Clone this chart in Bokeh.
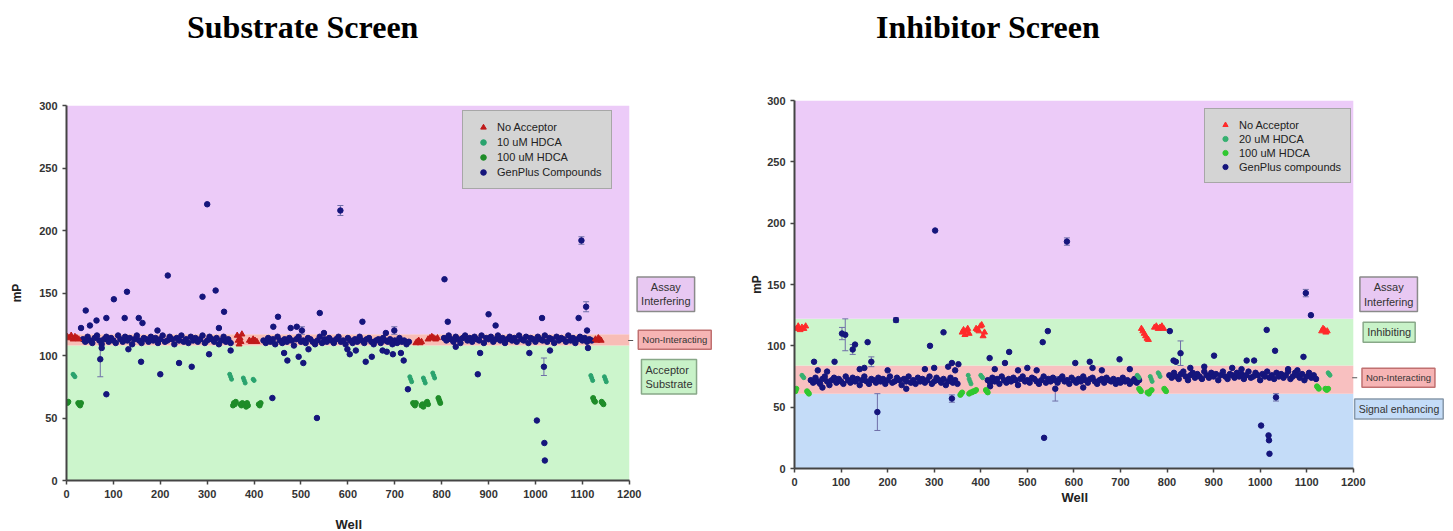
from bokeh.plotting import figure
from bokeh.layouts import row, column
from bokeh.models import (Legend, LegendItem, Label, Range1d, FixedTicker, Title, Div)
from bokeh.embed import file_html
from bokeh.resources import INLINE

# ---------------- data: Substrate Screen ----------------
sub_band_lo = [0, 108, 117]
sub_band_hi = [108, 117, 300]
sub_band_col = ["#CCF5CC", "#F8BDB6", "#ECCBF8"]
sub_mark_mp = 112

# dense band of GenPlus compounds (wells step 5 from the given start)
sub_bulk1_start = 35
sub_bulk1 = [113, 111, 115, 112, 110, 114, 116, 112, 109, 113,
             115, 111, 114, 112, 110, 116, 113, 111, 115, 112,
             114, 109, 113, 116, 112, 110, 114, 113, 111, 115,
             112, 114, 110, 113, 116, 111, 112, 115, 113, 109,
             114, 112, 116, 111, 113, 110, 115, 112, 114, 111,
             113, 116, 110, 112, 115, 113, 111, 114, 109, 112,
             115, 111, 113, 110]
sub_bulk2_start = 420
sub_bulk2 = [112, 110, 114, 111, 113, 109, 115, 112, 110, 113,
             111, 114, 112, 108, 113, 115, 111, 112, 110, 114,
             113, 111, 109, 112, 115, 110, 113, 111, 114, 112,
             110, 113, 115, 111, 112, 109, 114, 112, 110, 113,
             111, 115, 112, 110, 113, 114, 111, 109, 112, 113,
             110, 114, 112, 111, 113, 109, 112, 110, 114, 111,
             112, 109, 111]
sub_bulk3_start = 805
sub_bulk3 = [114, 112, 116, 113, 111, 115, 113, 110, 114, 116,
             112, 114, 111, 115, 113, 112, 116, 110, 114, 113,
             115, 111, 113, 116, 112, 114, 110, 113, 115, 112,
             114, 111, 116, 113, 112, 115, 110, 114, 113, 111,
             115, 113, 112, 116, 111, 114, 113, 110, 115, 112,
             114, 113, 111, 116, 112, 114, 110, 113, 115, 112,
             114, 111, 113, 112]
sub_out_well = [31, 41, 50, 64, 85, 101, 124, 129, 154, 162, 194, 216, 290, 300, 318,
                325, 336, 441, 451, 478, 491, 502, 540, 549, 584, 631, 681, 699, 806,
                813, 900, 915, 1014, 1092, 1098, 1108, 1110,
                72, 75, 85, 132, 159, 200, 240, 267, 304, 350, 439, 464, 471, 495, 505,
                516, 534, 599, 604, 617, 638, 651, 674, 683, 696, 713, 719, 728, 830,
                877, 882, 987, 1003, 1018, 1019, 1020, 1031, 1112]
sub_out_mp = [122, 136, 124, 128, 130, 145, 130, 151, 130, 126, 120, 164, 147, 221, 152,
              122, 135, 123, 131, 122, 123, 120, 134, 118, 216, 127, 118, 120, 161,
              127, 133, 124, 130, 130, 192, 139, 120,
              97, 106, 69, 105, 95, 85, 94, 91, 101, 104, 66, 102, 96, 99, 94,
              105, 50, 105, 101, 104, 95, 99, 104, 103, 101, 102, 96, 73, 107,
              85, 102, 102, 48, 91, 30, 16, 104, 106]
sub_err_well = [72, 502, 584, 699, 1018, 1098, 1108]
sub_err_mp = [97, 120, 216, 120, 91, 192, 139]
sub_err_sd = [14, 3, 4, 3, 7, 3, 4]

sub_noacc_well = [2, 6, 10, 14, 18, 22, 26, 364, 366, 368, 370, 372, 374,
                  390, 394, 398, 402, 406, 745, 748, 751, 754, 757,
                  771, 775, 779, 783, 787, 791, 1128, 1131, 1134, 1137, 1140]
sub_noacc_mp = [115, 114, 116, 113, 115, 114, 113, 116, 112, 109, 114, 111, 117,
                112, 111, 113, 112, 111, 110, 111, 112, 110, 111,
                113, 114, 115, 114, 113, 114, 113, 112, 114, 113, 112]
sub_lo_well = [14, 16, 18, 348, 350, 352, 377, 379, 381, 398, 400, 732, 734, 736,
               761, 763, 765, 781, 783, 785, 1118, 1120, 1122, 1147, 1149, 1151]
sub_lo_mp = [85, 84, 83, 85, 83, 81, 82, 80, 78, 81, 80, 83, 81, 79,
             82, 80, 78, 86, 84, 82, 84, 82, 80, 83, 81, 79]
sub_hi_well = [0, 2, 4, 25, 27, 29, 31, 355, 357, 359, 361, 371, 373, 375,
               381, 383, 385, 387, 410, 412, 414, 739, 741, 743, 745, 757, 759, 761,
               767, 769, 771, 793, 795, 797, 1123, 1125, 1127, 1141, 1143, 1145]
sub_hi_mp = [63, 62, 63, 62, 61, 60, 62, 60, 62, 61, 63, 61, 60, 62,
             61, 59, 62, 60, 61, 60, 62, 62, 61, 60, 62, 60, 61, 59,
             62, 63, 61, 66, 64, 62, 66, 64, 63, 63, 62, 61]
sub_legend = ["No Acceptor", "10 uM HDCA", "100 uM HDCA", "GenPlus Compounds"]
sub_zone_text = ["Assay\nInterfering", "Non-Interacting", "Acceptor\nSubstrate"]
sub_zone_pos = [(1278, 149), (1297, 112.6), (1226, 83)]
sub_zone_align = ["center", "center", "left"]

# ---------------- data: Inhibitor Screen ----------------
inh_band_lo = [0, 61, 84, 122]
inh_band_hi = [61, 84, 122, 300]
inh_band_col = ["#C4DCF8", "#F8C0C0", "#CCF5CC", "#ECCBF8"]
inh_mark_mp = 74

inh_bulk1_start = 35
inh_bulk1 = [72, 70, 74, 71, 69, 73, 75, 71, 68, 72,
             74, 70, 73, 71, 69, 75, 72, 70, 74, 71,
             73, 68, 72, 75, 71, 69, 73, 72, 70, 74,
             71, 73, 69, 72, 75, 70, 71, 74, 72, 68,
             73, 71, 75, 70, 72, 69, 74, 71, 73, 70,
             72, 75, 69, 71, 74, 72, 70, 73, 68, 71,
             74, 70, 72, 69]
inh_bulk2_start = 415
inh_bulk2 = [72, 70, 74, 71, 73, 69, 75, 72, 70, 73,
             71, 74, 72, 68, 73, 75, 71, 72, 70, 74,
             73, 71, 69, 72, 75, 70, 73, 71, 74, 72,
             70, 73, 75, 71, 72, 69, 74, 72, 70, 73,
             71, 75, 72, 70, 73, 74, 71, 69, 72, 73,
             70, 74, 72, 71, 73, 69, 72, 70, 74, 71,
             72, 69, 71, 73, 70, 72]
inh_bulk3_start = 805
inh_bulk3 = [76, 74, 78, 75, 73, 77, 79, 75, 72, 76,
             78, 74, 77, 75, 73, 79, 76, 74, 78, 75,
             77, 72, 76, 79, 75, 73, 77, 76, 74, 78,
             75, 77, 73, 76, 79, 74, 75, 78, 76, 72,
             77, 75, 79, 74, 76, 73, 78, 75, 77, 74,
             76, 79, 73, 75, 78, 76, 74, 77, 72, 75,
             78, 74, 76, 73]
inh_out_well = [42, 86, 102, 109, 125, 130, 157, 165, 178, 218, 291, 302, 320, 338, 338,
                352, 419, 452, 461, 533, 536, 544, 560, 585, 603, 634, 698, 806, 814,
                819, 829, 901, 971, 987, 1002, 1014, 1018, 1019, 1020, 1032, 1034, 1093,
                1098, 1109,
                50, 70, 140, 150, 200, 280, 300, 330, 345, 430, 480, 500, 520, 640, 660,
                720, 850, 880, 940, 960, 1060, 1080, 60, 240, 420, 620]
inh_out_mp = [87, 87, 110, 109, 97, 101, 103, 87, 46, 121, 100, 194, 111, 57, 86,
              85, 90, 86, 95, 103, 25, 112, 65, 185, 86, 87, 89, 112, 88,
              87, 94, 92, 88, 88, 35, 113, 27, 23, 12, 96, 58, 91,
              143, 125,
              80, 79, 81, 82, 80, 81, 82, 83, 80, 81, 80, 82, 80, 82, 80,
              81, 82, 83, 82, 81, 81, 80, 66, 65, 67, 66]
inh_err_well = [102, 109, 125, 165, 178, 218, 338, 560, 585, 829, 1034, 1098]
inh_err_mp = [110, 109, 97, 87, 46, 121, 57, 65, 185, 94, 58, 143]
inh_err_sd = [5, 13, 4, 4, 15, 2, 3, 10, 3, 10, 3, 3]

inh_noacc_well = [4, 8, 12, 16, 20, 24, 360, 363, 366, 369, 372, 375,
                  390, 393, 396, 399, 402, 405, 408, 745, 748, 751, 754, 757, 760,
                  773, 777, 781, 785, 789, 793, 1132, 1135, 1138, 1141, 1144]
inh_noacc_mp = [114, 116, 113, 115, 114, 116, 111, 113, 109, 112, 114, 110,
                114, 113, 112, 116, 117, 108, 111, 114, 112, 110, 108, 106, 105,
                115, 116, 114, 115, 116, 114, 112, 114, 113, 111, 112]
inh_lo_well = [16, 18, 20, 373, 375, 377, 379, 400, 402, 404, 736, 738, 740,
               764, 766, 768, 781, 783, 785, 1146, 1148, 1150]
inh_lo_mp = [76, 75, 74, 76, 73, 71, 69, 76, 75, 74, 76, 75, 74,
             75, 73, 71, 78, 77, 75, 78, 77, 76]
inh_hi_well = [0, 2, 4, 27, 29, 31, 356, 358, 360, 375, 378, 381, 384, 387, 390,
               411, 413, 415, 740, 742, 744, 758, 761, 764, 767, 794, 796, 798,
               1122, 1124, 1126, 1140, 1143, 1146]
inh_hi_mp = [64, 63, 65, 63, 62, 61, 60, 61, 62, 61, 62, 62, 63, 63, 64,
             64, 63, 62, 65, 64, 63, 62, 61, 63, 64, 65, 64, 63,
             67, 66, 65, 65, 64, 65]
inh_legend = ["No Acceptor", "20 uM HDCA", "100 uM HDCA", "GenPlus compounds"]
inh_zone_text = ["Assay\nInterfering", "Inhibiting", "Non-Interacting", "Signal enhancing"]
inh_zone_pos = [(1276, 142), (1277, 111), (1297, 74), (1298, 48.5)]
inh_zone_align = ["center", "center", "center", "center"]

x_ticks = [0, 100, 200, 300, 400, 500, 600, 700, 800, 900, 1000, 1100, 1200]
y_ticks = [0, 50, 100, 150, 200, 250, 300]

SANS = "Liberation Sans"
NAVY = "#15157C"
ERRC = "#6F6FA8"
TITLE_H = 55


def bulk_x(start, vals):
    return [start + 5 * i for i in range(len(vals))]


def title_div(text, width, left):
    html = ('<div style="padding-left:%dpx; padding-top:5px; white-space:nowrap; '
            'font-family:\'Liberation Serif\'; font-weight:bold; font-size:32px; '
            'color:#000;">%s</div>' % (left, text))
    return Div(text=html, width=width, height=TITLE_H, margin=0)


def make_panel(cfg):
    p = figure(output_backend="svg", toolbar_location=None,
               frame_width=cfg["fw"], frame_height=cfg["fh"],
               min_border_left=cfg["bl"], min_border_right=0,
               min_border_top=cfg["bt"], min_border_bottom=cfg["bb"],
               x_range=Range1d(0, cfg["xend"]), y_range=Range1d(0, 300))
    p.outline_line_color = None
    p.background_fill_color = "white"
    p.border_fill_color = "white"
    p.xgrid.visible = False
    p.ygrid.visible = False

    p.quad(left=0, right=1200, bottom=cfg["band_lo"], top=cfg["band_hi"],
           fill_color=cfg["band_col"], line_color=None)

    # error bars
    eu = [m + s for m, s in zip(cfg["err_mp"], cfg["err_sd"])]
    el = [m - s for m, s in zip(cfg["err_mp"], cfg["err_sd"])]
    p.segment(x0=cfg["err_well"], y0=el, x1=cfg["err_well"], y1=eu,
              line_color=ERRC, line_width=1)
    p.scatter(cfg["err_well"], eu, marker="dash", size=6, line_color=ERRC, line_width=1)
    p.scatter(cfg["err_well"], el, marker="dash", size=6, line_color=ERRC, line_width=1)

    # compounds
    bx = (bulk_x(cfg["b1s"], cfg["b1"]) + bulk_x(cfg["b2s"], cfg["b2"])
          + bulk_x(cfg["b3s"], cfg["b3"]) + cfg["out_well"])
    by = cfg["b1"] + cfg["b2"] + cfg["b3"] + cfg["out_mp"]
    r_gen = p.scatter(bx, by, size=5.5, color=NAVY, line_color=NAVY)

    r_no = p.scatter(cfg["no_well"], cfg["no_mp"], marker=cfg["no_marker"], size=6,
                     color=cfg["no_col"])
    r_lo = p.scatter(cfg["lo_well"], cfg["lo_mp"], size=4, color=cfg["lo_col"])
    r_hi = p.scatter(cfg["hi_well"], cfg["hi_mp"], size=5, color=cfg["hi_col"])

    # small mark at the right edge of the non-interacting zone
    p.scatter([1203], [cfg["mark_mp"]], marker="dash", size=5, line_color="#555555",
              line_width=1.2)

    legend = Legend(items=[LegendItem(label=cfg["legend"][0], renderers=[r_no]),
                           LegendItem(label=cfg["legend"][1], renderers=[r_lo]),
                           LegendItem(label=cfg["legend"][2], renderers=[r_hi]),
                           LegendItem(label=cfg["legend"][3], renderers=[r_gen])],
                    location=cfg["leg_loc"], background_fill_color="#D4D4D4",
                    background_fill_alpha=1, border_line_color="#7A7A7A",
                    border_line_width=1.5, label_text_font=SANS,
                    label_text_font_size="11px", label_text_color="#222222",
                    padding=9, spacing=1, glyph_width=22, glyph_height=cfg["leg_h"],
                    label_height=cfg["leg_h"], label_standoff=3, margin=0)
    p.add_layout(legend)

    # axes
    for ax in (p.xaxis[0], p.yaxis[0]):
        ax.axis_line_color = "#444444"
        ax.axis_line_width = 2
        ax.major_tick_line_color = "#444444"
        ax.major_tick_line_width = 1.5
        ax.major_tick_out = 4
        ax.major_tick_in = 0
        ax.minor_tick_line_color = None
        ax.major_label_text_font = SANS
        ax.major_label_text_font_style = "bold"
        ax.major_label_text_font_size = "11px"
        ax.major_label_text_color = "#333333"
        ax.axis_label_text_font = SANS
        ax.axis_label_text_font_style = "bold"
        ax.axis_label_text_color = "#222222"
    p.xaxis.ticker = FixedTicker(ticks=x_ticks)
    p.yaxis.ticker = FixedTicker(ticks=y_ticks)
    p.xaxis.bounds = (0, 1200)
    p.yaxis.axis_label = "mP"
    p.yaxis.axis_label_text_font_size = "12px"
    p.yaxis.axis_label_standoff = cfg["yls"]

    # x-axis title "Well" placed under the 0-1200 span
    p.add_layout(Title(text="Well", align="left", offset=cfg["well_off"],
                       standoff=cfg["well_so"], vertical_align="middle",
                       text_font=SANS, text_font_style="bold", text_font_size="13px",
                       text_color="#222222"), "below")

    # zone labels
    for i, (txt, (zx, zy)) in enumerate(zip(cfg["zone_text"], cfg["zone_pos"])):
        fill, border = cfg["zone_style"][i]
        p.add_layout(Label(x=zx, y=zy, text=txt, text_font=SANS,
                           text_font_size=cfg["zone_size"][i],
                           text_align=cfg["zone_align"][i],
                           text_baseline="middle", text_color="#333333",
                           background_fill_color=fill, border_line_color=border,
                           border_line_width=1.5, padding=4))
    return p


p1 = make_panel(dict(
    fw=665, fh=375, bl=66, bt=50, bb=30, xend=1418,
    band_lo=sub_band_lo, band_hi=sub_band_hi, band_col=sub_band_col,
    mark_mp=sub_mark_mp,
    err_well=sub_err_well, err_mp=sub_err_mp, err_sd=sub_err_sd,
    b1s=sub_bulk1_start, b1=sub_bulk1, b2s=sub_bulk2_start, b2=sub_bulk2,
    b3s=sub_bulk3_start, b3=sub_bulk3, out_well=sub_out_well, out_mp=sub_out_mp,
    no_well=sub_noacc_well, no_mp=sub_noacc_mp, no_marker="triangle", no_col="#C01A1A",
    lo_well=sub_lo_well, lo_mp=sub_lo_mp, lo_col="#2AA36E",
    hi_well=sub_hi_well, hi_mp=sub_hi_mp, hi_col="#1E8C28",
    legend=sub_legend, leg_loc=(396, 291), leg_h=14,
    yls=12, well_off=269, well_so=31,
    zone_text=sub_zone_text, zone_pos=sub_zone_pos, zone_align=sub_zone_align,
    zone_style=[("#E8C8F2", "#8A8A8A"), ("#F6B4B4", "#C07070"), ("#C8F2C8", "#88A888")],
    zone_size=["11px", "9.5px", "11px"],
))

p2 = make_panel(dict(
    fw=651, fh=368, bl=63, bt=45, bb=30, xend=1398,
    band_lo=inh_band_lo, band_hi=inh_band_hi, band_col=inh_band_col,
    mark_mp=inh_mark_mp,
    err_well=inh_err_well, err_mp=inh_err_mp, err_sd=inh_err_sd,
    b1s=inh_bulk1_start, b1=inh_bulk1, b2s=inh_bulk2_start, b2=inh_bulk2,
    b3s=inh_bulk3_start, b3=inh_bulk3, out_well=inh_out_well, out_mp=inh_out_mp,
    no_well=inh_noacc_well, no_mp=inh_noacc_mp, no_marker="triangle", no_col="#FF2A2A",
    lo_well=inh_lo_well, lo_mp=inh_lo_mp, lo_col="#35B070",
    hi_well=inh_hi_well, hi_mp=inh_hi_mp, hi_col="#30C830",
    legend=inh_legend, leg_loc=(410, 285), leg_h=13,
    yls=0, well_off=267, well_so=0,
    zone_text=inh_zone_text, zone_pos=inh_zone_pos, zone_align=inh_zone_align,
    zone_style=[("#E8C8F2", "#8A8A8A"), ("#C8F2C8", "#88A888"),
                ("#F6B4B4", "#C07070"), ("#C4DCF8", "#8899AA")],
    zone_size=["11px", "11px", "9.5px", "10.5px"],
))

layout = row(column(title_div("Substrate Screen", 731, 187), p1),
             column(title_div("Inhibitor Screen", 714, 145), p2))
open("out.html", "w").write(file_html(layout, INLINE))
